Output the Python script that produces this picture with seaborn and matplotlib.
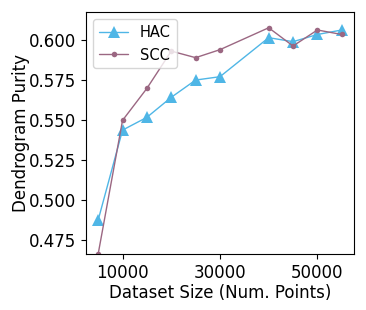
import matplotlib
matplotlib.use("Agg")
import matplotlib.pyplot as plt
import seaborn as sns
import pandas as pd

sizes = [5000, 10000, 15000, 20000, 25000, 30000, 40000, 45000, 50000, 55000]
hac = [0.4875, 0.5437, 0.5517, 0.5642, 0.5750, 0.5771, 0.6015, 0.5990, 0.6035, 0.6063]
scc = [0.4663, 0.5498, 0.5698, 0.5931, 0.5890, 0.5940, 0.6077, 0.5963, 0.6063, 0.6035]
xticks = [10000, 30000, 50000]
yticks = [0.475, 0.500, 0.525, 0.550, 0.575, 0.600]

sns.set_style("ticks")
plt.rcParams['font.family'] = ['DejaVu Sans']
plt.rcParams.update({'text.color': 'black', 'axes.labelcolor': 'black',
                     'xtick.color': 'black', 'ytick.color': 'black',
                     'axes.edgecolor': 'black'})

df = pd.DataFrame({"size": sizes * 2, "purity": hac + scc,
                   "method": ["HAC"] * len(sizes) + ["SCC"] * len(sizes)})

fig = plt.figure(figsize=(3.66, 3.10), dpi=100)
ax = fig.add_axes([0.235, 0.181, 0.732, 0.780])

sns.lineplot(data=df[df.method == "HAC"], x="size", y="purity", ax=ax,
             color="#4fb6e6", marker="^", markersize=8, markeredgewidth=0,
             linewidth=1.0, label="HAC")
sns.lineplot(data=df[df.method == "SCC"], x="size", y="purity", ax=ax,
             color="#9b6782", marker="o", markersize=4, markeredgewidth=0,
             linewidth=1.0, label="SCC")

ax.set_xlim(2500, 57500)
ax.set_ylim(0.4663, 0.6175)
ax.set_xticks(xticks)
ax.set_xticklabels([str(t) for t in xticks])
ax.set_yticks(yticks)
ax.set_yticklabels([f"{t:.3f}" for t in yticks])
ax.tick_params(labelsize=12, colors="black")
ax.set_xlabel("Dataset Size (Num. Points)", fontsize=12, color="black", labelpad=2)
ax.set_ylabel("Dendrogram Purity", fontsize=12, color="black", labelpad=-1)
for s in ax.spines.values():
    s.set_visible(True)
    s.set_color("black")
leg = ax.legend(loc="upper left", fontsize=10.5)
for t in leg.get_texts():
    t.set_color("black")

fig.savefig("out.png", dpi=100)
